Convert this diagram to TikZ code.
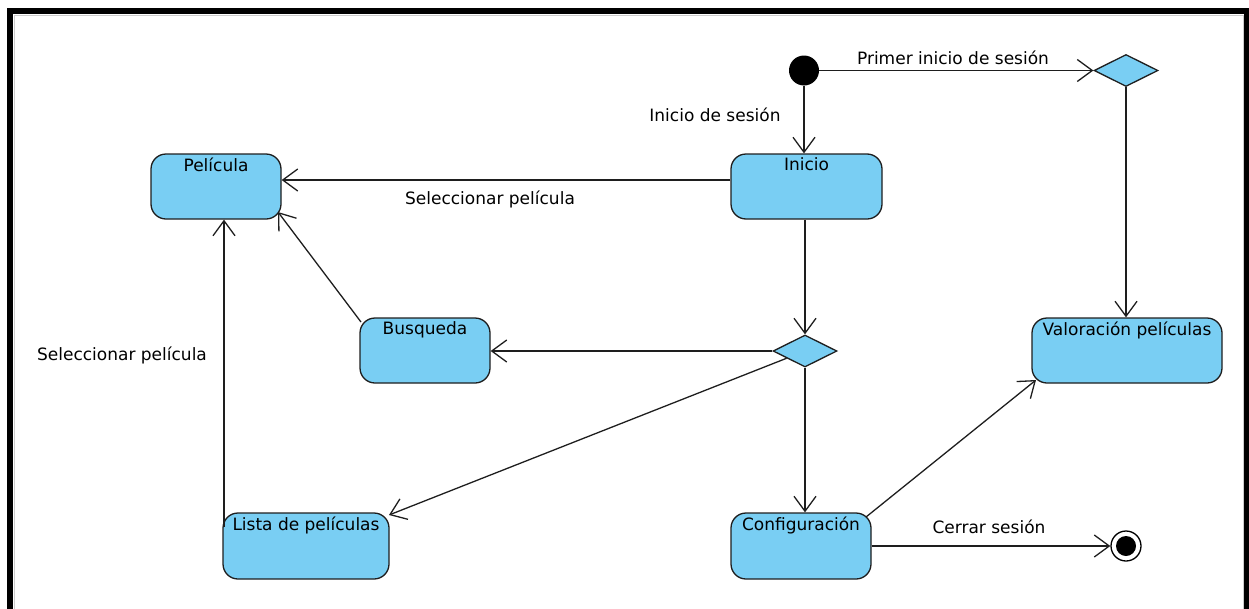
\documentclass[tikz,border=0pt]{standalone}
\usepackage{fontspec}
\setmainfont{DejaVu Sans}
\usetikzlibrary{arrows.meta,shapes.geometric}
\definecolor{statefill}{RGB}{121,206,243}
\definecolor{edgegray}{RGB}{30,30,30}
\begin{document}
\begin{tikzpicture}[x=1pt,y=-1pt,
  font=\fontsize{17}{20}\selectfont,
  state/.style={draw=edgegray, line width=1.3pt, fill=statefill,
    rounded corners=15pt, inner sep=0pt},
  choice/.style={draw=edgegray, line width=1.3pt, fill=statefill,
    diamond, aspect=2, minimum width=64pt, minimum height=32pt, inner sep=0pt},
  flow/.style={draw=edgegray, line width=1.3pt,
    -{Straight Barb[length=15pt,width=22pt,line width=1.3pt]}},
  tag/.style={inner sep=0pt, anchor=center},
  title/.style={anchor=north, inner sep=4.5pt}]
\useasboundingbox (0,0) rectangle (1249,608);
\clip (0,0) rectangle (1249,608);
% outer frame
\draw[line width=6pt] (10,11) rectangle (1247,650);
\draw[line width=0.6pt, gray!40] (14,15) rectangle (1243,650);

% states
\node[state, minimum width=130pt, minimum height=65pt,
  label={[title]north:Película}] (pel) at (216,186.5) {};
\node[state, minimum width=151pt, minimum height=65pt,
  label={[title]north:Inicio}] (ini) at (806.5,186.5) {};
\node[state, minimum width=130pt, minimum height=65pt,
  label={[title]north:Busqueda}] (bus) at (425,350.5) {};
\node[state, minimum width=190pt, minimum height=65pt,
  label={[title]north:Valoración películas}] (val) at (1127,350.5) {};
\node[state, minimum width=166pt, minimum height=66pt,
  label={[title]north:Lista de películas}] (lis) at (306,546) {};
\node[state, minimum width=140pt, minimum height=66pt,
  label={[title]north:Configuración}] (con) at (801,546) {};

% pseudo states
\node[circle, fill=black, minimum size=30pt, inner sep=0pt] (start) at (804,70.5) {};
\node[choice] (d1) at (1126,70.5) {};
\node[choice] (d2) at (805,351) {};
\node[circle, draw=black, line width=1.3pt, fill=white, minimum size=30pt, inner sep=0pt,
  path picture={\fill[black] (path picture bounding box.center) circle (10pt);}]
  (fin) at (1126,546) {};

% anchor points on the edges of the rounded boxes
\coordinate (lisLeft) at (224,527);
\coordinate (busCorner) at (361,322);
\coordinate (pelCorner) at (278,212);
\coordinate (conCorner) at (866,517);
\coordinate (valCorner) at (1036,380);
\coordinate (lisCorner) at (389,515);

% transitions
\draw[flow] (start) -- (start |- ini.north);
\draw[flow] (start) -- (start -| d1.west);
\draw[flow] (d1.south) -- (d1.south |- val.north);
\draw[flow] ([yshift=6.5pt]ini.west) -- ([yshift=6.5pt]pel.east);
\draw[flow] (d2.north |- ini.south) -- (d2.north);
\draw[flow] (d2.west) -- (d2.west -| bus.east);
\draw[flow] (d2) -- (lisCorner);
\draw[flow] (d2.south) -- (d2.south |- con.north);
\draw[flow] (busCorner) -- (pelCorner);
\draw[flow] (lisLeft) -- (lisLeft |- pel.south);
\draw[flow] (conCorner) -- (valCorner);
\draw[flow] (con.east) -- (fin.west);

% transition labels
\node[tag] (l1) at (715,115) {Inicio de sesión};
\node[tag] (l2) at (953,58) {Primer inicio de sesión};
\node[tag] (l3) at (490,199) {Seleccionar película};
\node[tag] (l4) at (122,355) {Seleccionar película};
\node[tag] (l5) at (989,527) {Cerrar sesión};
\end{tikzpicture}
\end{document}
